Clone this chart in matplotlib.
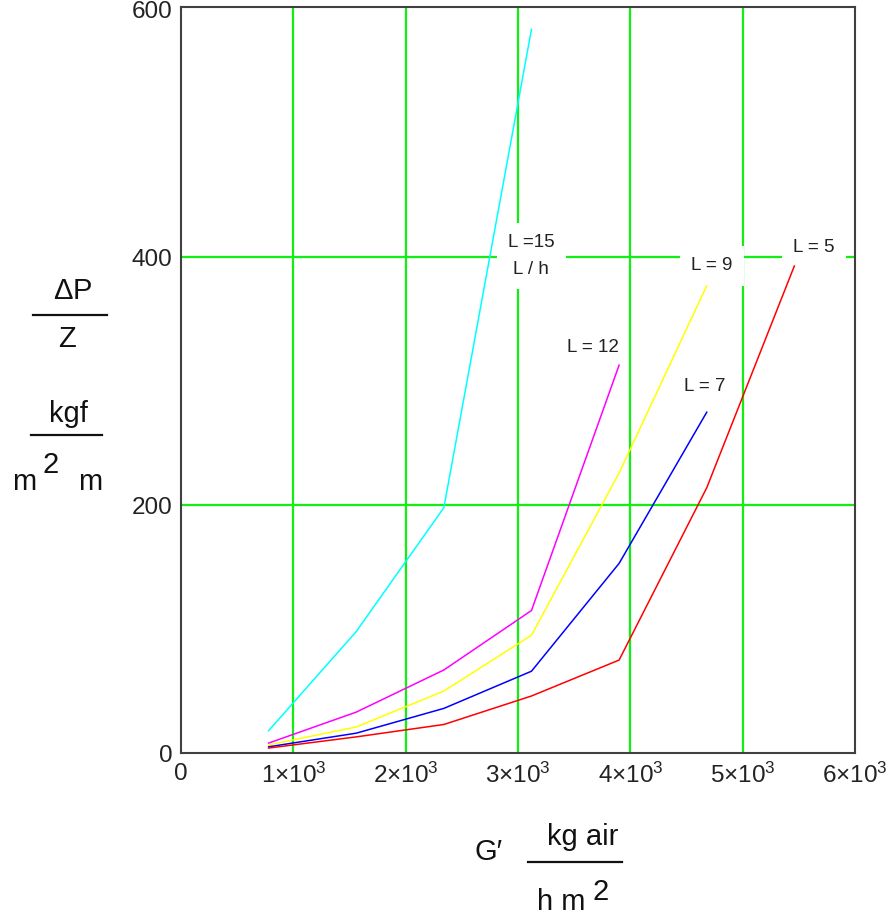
import matplotlib
matplotlib.use("Agg")
import matplotlib.pyplot as plt
from matplotlib.lines import Line2D

plt.rcParams['font.family'] = ['Liberation Sans', 'DejaVu Sans']
plt.rcParams['mathtext.fontset'] = 'custom'
plt.rcParams['mathtext.rm'] = 'Liberation Sans'
plt.rcParams['mathtext.it'] = 'Liberation Sans'

# --- data ---
G = [780, 1560, 2340, 3120, 3900, 4680, 5460]   # kg air / h m2
dp_L15 = [18, 98, 198, 584]
dp_L12 = [8, 33, 67, 115, 313]
dp_L9 = [6.5, 21, 50, 95, 226, 377]
dp_L7 = [5, 16, 36, 66, 153, 275]
dp_L5 = [4, 13, 23, 46, 75, 214, 393]

x_ticks = [0, 1000, 2000, 3000, 4000, 5000, 6000]
x_ticklabels = ['0'] + [r'$%d{\times}10^{3}$' % k for k in range(1, 7)]
y_ticks = [0, 200, 400, 600]

W, H = 894, 922
fig = plt.figure(figsize=(W / 100, H / 100), dpi=100)
ax = fig.add_axes([181 / W, 1 - 753 / H, (855 - 181) / W, (753 - 7) / H])
ax.set_xlim(0, 6000)
ax.set_ylim(0, 602)

grid_c = '#11ee11'
for gx in [1000, 2000, 3000, 4000, 5000]:
    ax.axvline(gx, color=grid_c, lw=1.6, zorder=1)
for gy in [200, 400]:
    ax.axhline(gy, color=grid_c, lw=1.6, zorder=1)

ax.plot(G[:4], dp_L15, color='#00ffff', lw=1.1, zorder=3)
ax.plot(G[:5], dp_L12, color='#ff00ff', lw=1.1, zorder=3)
ax.plot(G[:6], dp_L9, color='#ffff00', lw=1.1, zorder=3)
ax.plot(G[:6], dp_L7, color='#0000ff', lw=1.1, zorder=3)
ax.plot(G, dp_L5, color='#ff0000', lw=1.1, zorder=3)

box = dict(facecolor='white', edgecolor='none', boxstyle='square,pad=0.6')
lab = dict(fontsize=13.5, ha='center', va='center', color='#222222', zorder=2)
ax.text(3117, 401, 'L =15\nL / h', linespacing=1.75, bbox=box, **lab)
ax.text(3669, 327, 'L = 12', **lab)
ax.text(4728, 393, 'L = 9', bbox=box, **lab)
ax.text(4666, 296, 'L = 7', **lab)
ax.text(5637, 408, 'L = 5', bbox=box, **lab)

ax.set_xticks(x_ticks)
ax.set_xticklabels(x_ticklabels)
ax.set_yticks(y_ticks)
ax.tick_params(length=0, labelsize=17.5, colors='#222222')
ax.tick_params(axis='y', pad=6)
ax.tick_params(axis='x', pad=7)
for s in ax.spines.values():
    s.set_color('#404040')
    s.set_linewidth(1.5)
    s.set_zorder(5)


def ft(x, y, s, size=21, **kw):
    fig.text(x / W, 1 - y / H, s, fontsize=size, color='#111111', **kw)


def fline(x0, x1, y):
    fig.add_artist(Line2D([x0 / W, x1 / W], [1 - y / H, 1 - y / H],
                          color='#111111', lw=1.6))


# y axis label
ft(73, 291, r'$\Delta$P', ha='center', va='center')
fline(33, 107, 315)
ft(67, 339, 'Z', ha='center', va='center')
ft(68, 422, 'kgf', ha='center', va='baseline')
fline(31, 102, 435)
ft(24, 490, 'm', ha='center', va='baseline')
ft(51, 473, '2', ha='center', va='baseline')
ft(90, 490, 'm', ha='center', va='baseline')

# x axis label
ft(489, 860, 'G\u2032', ha='center', va='baseline')
ft(583, 845, 'kg air', ha='center', va='baseline')
fline(528, 622, 862)
ft(561, 910, 'h m', ha='center', va='baseline')
ft(601, 900, '2', ha='center', va='baseline')

fig.savefig('out.png', dpi=100)
